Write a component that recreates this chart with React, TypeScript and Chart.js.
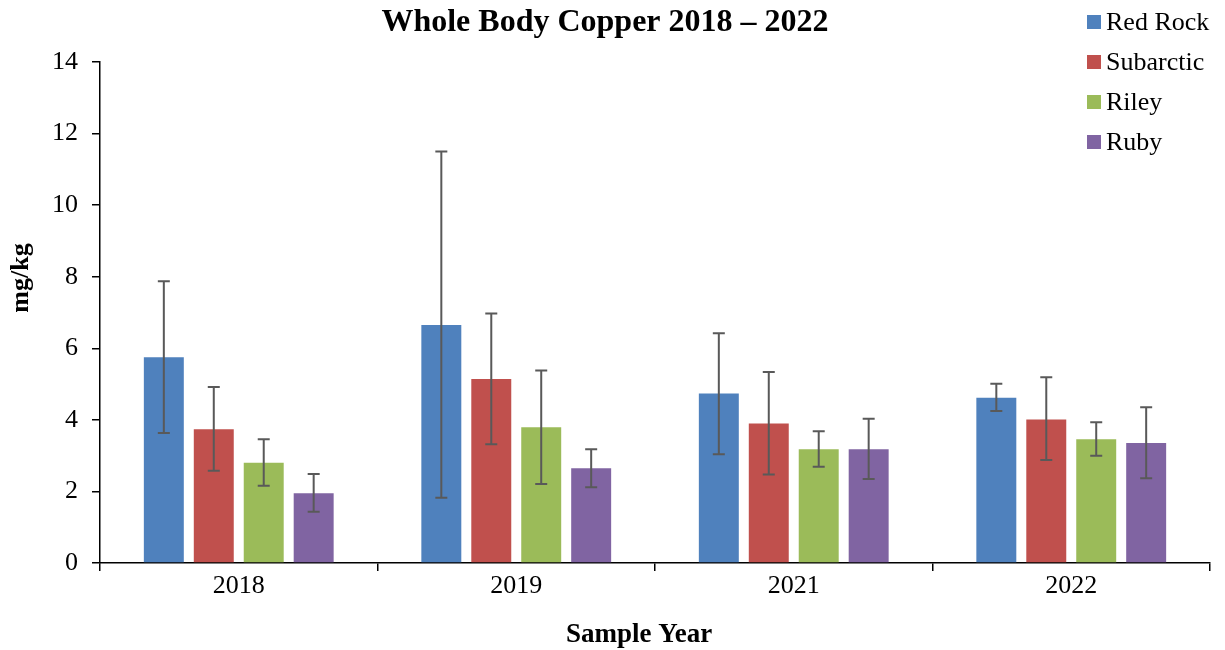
import React, { useEffect, useRef } from "react";
import { Chart, registerables } from "chart.js";

Chart.register(...registerables);

const categories = ["2018", "2019", "2021", "2022"];
const seriesNames = ["Red Rock", "Subarctic", "Riley", "Ruby"];
const seriesColors = ["#4F81BD", "#C0504D", "#9BBB59", "#8064A2"];

const redRock = [5.75, 6.65, 4.74, 4.62];
const redRockHi = [7.87, 11.5, 6.42, 5.01];
const redRockLo = [3.63, 1.82, 3.04, 4.25];

const subarctic = [3.74, 5.14, 3.9, 4.01];
const subarcticHi = [4.92, 6.97, 5.34, 5.19];
const subarcticLo = [2.58, 3.32, 2.47, 2.88];

const riley = [2.8, 3.79, 3.18, 3.46];
const rileyHi = [3.46, 5.38, 3.68, 3.93];
const rileyLo = [2.16, 2.21, 2.69, 3.0];

const ruby = [1.95, 2.65, 3.18, 3.35];
const rubyHi = [2.49, 3.18, 4.03, 4.35];
const rubyLo = [1.43, 2.12, 2.35, 2.37];

const yTicks = [0, 2, 4, 6, 8, 10, 12, 14];
const yAxisTitle = "mg/kg";
const xAxisTitle = "Sample Year";

const SERIF = "'Liberation Serif', 'Times New Roman', serif";

const errorBarPlugin = {
  id: "errorBars",
  afterDatasetsDraw(chart: any) {
    const ctx = chart.ctx;
    const yScale = chart.scales.y;
    ctx.save();
    ctx.strokeStyle = "#595959";
    ctx.lineWidth = 2;
    chart.data.datasets.forEach((ds: any, i: number) => {
      const meta = chart.getDatasetMeta(i);
      meta.data.forEach((bar: any, j: number) => {
        const hi = ds.errHi[j];
        const lo = ds.errLo[j];
        const x = bar.x;
        const yHi = yScale.getPixelForValue(hi);
        const yLo = yScale.getPixelForValue(lo);
        const cap = 6;
        ctx.beginPath();
        ctx.moveTo(x, yHi);
        ctx.lineTo(x, yLo);
        ctx.moveTo(x - cap, yHi);
        ctx.lineTo(x + cap, yHi);
        ctx.moveTo(x - cap, yLo);
        ctx.lineTo(x + cap, yLo);
        ctx.stroke();
      });
    });
    ctx.restore();
  },
};

const legendPlugin = {
  id: "customLegend",
  afterDraw(chart: any) {
    const ctx = chart.ctx;
    ctx.save();
    ctx.font = `26px ${SERIF}`;
    ctx.textBaseline = "middle";
    ctx.textAlign = "left";
    chart.data.datasets.forEach((ds: any, i: number) => {
      const cy = 22 + i * 40;
      ctx.fillStyle = ds.backgroundColor;
      ctx.fillRect(1087, cy - 7, 14, 14);
      ctx.fillStyle = "#000";
      ctx.fillText(ds.label, 1106, cy + 1);
    });
    // x axis title
    ctx.font = `bold 27px ${SERIF}`;
    ctx.textAlign = "center";
    ctx.textBaseline = "middle";
    ctx.fillText(xAxisTitle, 639, 635);
    // y axis title
    ctx.translate(21, 278);
    ctx.rotate(-Math.PI / 2);
    ctx.font = `bold 26px ${SERIF}`;
    ctx.fillText(yAxisTitle, 0, 0);
    ctx.restore();
  },
};

export default function App() {
  const canvasRef = useRef<HTMLCanvasElement | null>(null);

  useEffect(() => {
    if (!canvasRef.current) return;
    Chart.defaults.font.family = SERIF;
    const values = [redRock, subarctic, riley, ruby];
    const his = [redRockHi, subarcticHi, rileyHi, rubyHi];
    const los = [redRockLo, subarcticLo, rileyLo, rubyLo];
    const chart = new Chart(canvasRef.current, {
      type: "bar",
      data: {
        labels: categories,
        datasets: seriesNames.map((name, i) => ({
          label: name,
          data: values[i],
          errHi: his[i],
          errLo: los[i],
          backgroundColor: seriesColors[i],
          borderWidth: 0,
          categoryPercentage: 0.72,
          barPercentage: 0.8,
        })) as any,
      },
      options: {
        animation: false,
        responsive: false,
        maintainAspectRatio: false,
        layout: { padding: { left: 0, right: 15, top: 0, bottom: 0 } },
        plugins: {
          legend: { display: false },
          tooltip: { enabled: false },
          title: {
            display: true,
            text: "Whole Body Copper 2018 – 2022",
            color: "#000",
            font: { size: 32, weight: "bold", family: SERIF },
            padding: { top: 4, bottom: 19.6 },
          },
        },
        scales: {
          x: {
            afterFit: (scale: any) => {
              scale.height = 87;
            },
            grid: {
              display: true,
              drawOnChartArea: false,
              drawTicks: true,
              tickLength: 8,
              color: "#000",
              lineWidth: 1.5,
              offset: true,
            },
            border: { display: true, color: "#000", width: 1.5 },
            ticks: { color: "#000", font: { size: 26, family: SERIF }, padding: 0 },
          },
          y: {
            min: 0,
            max: 14,
            afterFit: (scale: any) => {
              scale.width = 100;
            },
            afterBuildTicks: (scale: any) => {
              scale.ticks = yTicks.map((v) => ({ value: v }));
            },
            grid: {
              display: true,
              drawOnChartArea: false,
              drawTicks: true,
              tickLength: 8,
              color: "#000",
              lineWidth: 1.5,
            },
            border: { display: true, color: "#000", width: 1.5 },
            ticks: { color: "#000", font: { size: 26, family: SERIF }, padding: 14 },
          },
        },
      },
      plugins: [errorBarPlugin, legendPlugin],
    });
    return () => chart.destroy();
  }, []);

  return (
    <div style={{ position: "absolute", left: 0, top: 0, width: 1225, height: 650 }}>
      <canvas ref={canvasRef} width={1225} height={650} style={{ width: 1225, height: 650 }} />
    </div>
  );
}
